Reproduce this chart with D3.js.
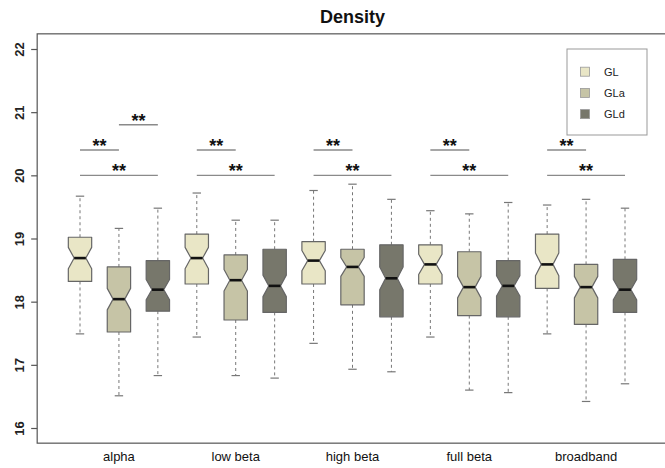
<!DOCTYPE html>
<html>
<head>
<meta charset="utf-8">
<script src="https://cdn.jsdelivr.net/npm/d3@7/dist/d3.min.js"></script>
<style>
html,body{margin:0;padding:0;background:#fff;}
svg{display:block;}
text{font-family:"Liberation Sans",Arial,Helvetica,sans-serif;}
</style>
</head>
<body>
<svg id="chart" width="665" height="468"></svg>
<script>
// ---- data ----
const categories = ["alpha", "low beta", "high beta", "full beta", "broadband"];
const seriesNames = ["GL", "GLa", "GLd"];
const seriesColors = ["#E9E6C6", "#C6C4A6", "#77776B"];

const GL_low    = [17.49, 17.44, 17.34, 17.44, 17.49];
const GL_q1     = [18.32, 18.28, 18.28, 18.28, 18.21];
const GL_median = [18.69, 18.69, 18.65, 18.59, 18.59];
const GL_q3     = [19.02, 19.07, 18.95, 18.90, 19.07];
const GL_high   = [19.67, 19.72, 19.76, 19.44, 19.53];

const GLa_low    = [16.51, 16.83, 16.93, 16.60, 16.42];
const GLa_q1     = [17.52, 17.71, 17.95, 17.78, 17.64];
const GLa_median = [18.04, 18.34, 18.55, 18.23, 18.23];
const GLa_q3     = [18.55, 18.74, 18.83, 18.79, 18.59];
const GLa_high   = [19.16, 19.29, 19.86, 19.39, 19.62];

const GLd_low    = [16.83, 16.79, 16.89, 16.56, 16.70];
const GLd_q1     = [17.85, 17.83, 17.76, 17.76, 17.83];
const GLd_median = [18.19, 18.25, 18.37, 18.25, 18.19];
const GLd_q3     = [18.65, 18.83, 18.90, 18.65, 18.67];
const GLd_high   = [19.48, 19.29, 19.62, 19.57, 19.48];

// notch half-extent (value units), per series per category
const GL_notch  = [0.17, 0.17, 0.16, 0.16, 0.18];
const GLa_notch = [0.17, 0.17, 0.15, 0.17, 0.17];
const GLd_notch = [0.16, 0.17, 0.18, 0.16, 0.16];

const yTicks = [16, 17, 18, 19, 20, 21, 22];

// significance brackets: [category index, series a, series b, level]
const sigBrackets = [
  [0, 0, 1, 20.4], [0, 0, 2, 20.0], [0, 1, 2, 20.8],
  [1, 0, 1, 20.4], [1, 0, 2, 20.0],
  [2, 0, 1, 20.4], [2, 0, 2, 20.0],
  [3, 0, 1, 20.4], [3, 0, 2, 20.0],
  [4, 0, 1, 20.4], [4, 0, 2, 20.0]
];
const sigLabel = "**";

// ---- build table ----
const raw = [
  [GL_low, GL_q1, GL_median, GL_q3, GL_high, GL_notch],
  [GLa_low, GLa_q1, GLa_median, GLa_q3, GLa_high, GLa_notch],
  [GLd_low, GLd_q1, GLd_median, GLd_q3, GLd_high, GLd_notch]
];
const boxes = [];
categories.forEach((c, ci) => {
  seriesNames.forEach((s, si) => {
    const r = raw[si];
    boxes.push({cat: ci, ser: si, pos: ci * 3 + si + 1,
      low: r[0][ci], q1: r[1][ci], med: r[2][ci], q3: r[3][ci], high: r[4][ci], notch: r[5][ci]});
  });
});

// ---- scales ----
const svg = d3.select("#chart");
const x = d3.scaleLinear().domain([1, 15]).range([80, 625]);
const y = d3.scaleLinear().domain([16, 22]).range([428, 49]);
const hw = x(0.3) - x(0);        // half box width
const capHw = hw * 0.36;

// plot frame
const fx0 = x(-0.1), fx1 = x(16.1), fy0 = y(22.24), fy1 = y(15.76);
svg.append("rect").attr("x", fx0).attr("y", fy0).attr("width", fx1 - fx0).attr("height", fy1 - fy0)
  .attr("fill", "none").attr("stroke", "#555").attr("stroke-width", 1.2);

// title
svg.append("text").attr("x", (fx0 + fx1) / 2).attr("y", 23).attr("text-anchor", "middle")
  .attr("font-size", 18).attr("font-weight", "bold").attr("fill", "#111").text("Density");

// y axis
const yAxis = svg.append("g").attr("transform", `translate(${fx0},0)`)
  .call(d3.axisLeft(y).tickValues(yTicks).tickSize(6).tickSizeOuter(0).tickFormat(d3.format("d")));
yAxis.select(".domain").remove();
yAxis.selectAll(".tick line").attr("stroke", "#555").attr("stroke-width", 1.2);
yAxis.selectAll(".tick text")
  .attr("x", null).attr("dy", null)
  .attr("transform", "translate(-13,0) rotate(-90)")
  .attr("text-anchor", "middle")
  .attr("font-size", 13).attr("font-weight", "bold").attr("fill", "#222")
  .attr("font-family", "Liberation Sans, Arial, sans-serif");

// x category labels
svg.append("g").selectAll("text").data(categories).join("text")
  .attr("x", (d, i) => x(i * 3 + 2)).attr("y", 461).attr("text-anchor", "middle")
  .attr("font-size", 13).attr("fill", "#111").text(d => d);

// boxes
const g = svg.append("g");
const bx = g.selectAll("g.box").data(boxes).join("g").attr("class", "box");

// whiskers (dashed)
bx.append("line").attr("x1", d => x(d.pos)).attr("x2", d => x(d.pos))
  .attr("y1", d => y(d.q3)).attr("y2", d => y(d.high))
  .attr("stroke", "#777").attr("stroke-dasharray", "3,3");
bx.append("line").attr("x1", d => x(d.pos)).attr("x2", d => x(d.pos))
  .attr("y1", d => y(d.q1)).attr("y2", d => y(d.low))
  .attr("stroke", "#777").attr("stroke-dasharray", "3,3");
// caps
bx.append("line").attr("x1", d => x(d.pos) - capHw).attr("x2", d => x(d.pos) + capHw)
  .attr("y1", d => y(d.high)).attr("y2", d => y(d.high)).attr("stroke", "#777").attr("stroke-width", 1.2);
bx.append("line").attr("x1", d => x(d.pos) - capHw).attr("x2", d => x(d.pos) + capHw)
  .attr("y1", d => y(d.low)).attr("y2", d => y(d.low)).attr("stroke", "#777").attr("stroke-width", 1.2);

// notched box polygon
bx.append("path")
  .attr("d", d => {
    const cx = x(d.pos);
    const pts = [
      [cx - hw, y(d.q1)], [cx - hw, y(d.med - d.notch)], [cx - hw / 2, y(d.med)],
      [cx - hw, y(d.med + d.notch)], [cx - hw, y(d.q3)], [cx + hw, y(d.q3)],
      [cx + hw, y(d.med + d.notch)], [cx + hw / 2, y(d.med)], [cx + hw, y(d.med - d.notch)],
      [cx + hw, y(d.q1)]
    ];
    return d3.line()(pts) + "Z";
  })
  .attr("fill", d => seriesColors[d.ser]).attr("stroke", "#666").attr("stroke-width", 1.2)
  .attr("stroke-linejoin", "round");
// median
bx.append("line").attr("x1", d => x(d.pos) - hw / 2).attr("x2", d => x(d.pos) + hw / 2)
  .attr("y1", d => y(d.med)).attr("y2", d => y(d.med)).attr("stroke", "#111").attr("stroke-width", 2.6);

// significance brackets
const sg = svg.append("g");
sigBrackets.forEach(b => {
  const xa = x(b[0] * 3 + b[1] + 1), xb = x(b[0] * 3 + b[2] + 1), yy = y(b[3]);
  sg.append("line").attr("x1", xa).attr("x2", xb).attr("y1", yy).attr("y2", yy)
    .attr("stroke", "#8a8a8a").attr("stroke-width", 1.4);
  sg.append("text").attr("x", (xa + xb) / 2).attr("y", yy + 2).attr("text-anchor", "middle")
    .attr("font-size", 18).attr("font-weight", "bold").attr("fill", "#111").text(sigLabel);
});

// legend
const lg = svg.append("g");
lg.append("rect").attr("x", 567).attr("y", 49).attr("width", 80).attr("height", 86)
  .attr("fill", "#fff").attr("stroke", "#999").attr("stroke-width", 1);
seriesNames.forEach((s, i) => {
  const cy = 71.7 + i * 21.2;
  lg.append("rect").attr("x", 580.5).attr("y", cy - 4.5).attr("width", 9).attr("height", 9)
    .attr("fill", seriesColors[i]).attr("stroke", "#999").attr("stroke-width", 0.8);
  lg.append("text").attr("x", 604).attr("y", cy + 4).attr("font-size", 11).attr("fill", "#222").text(s);
});
</script>
</body>
</html>
